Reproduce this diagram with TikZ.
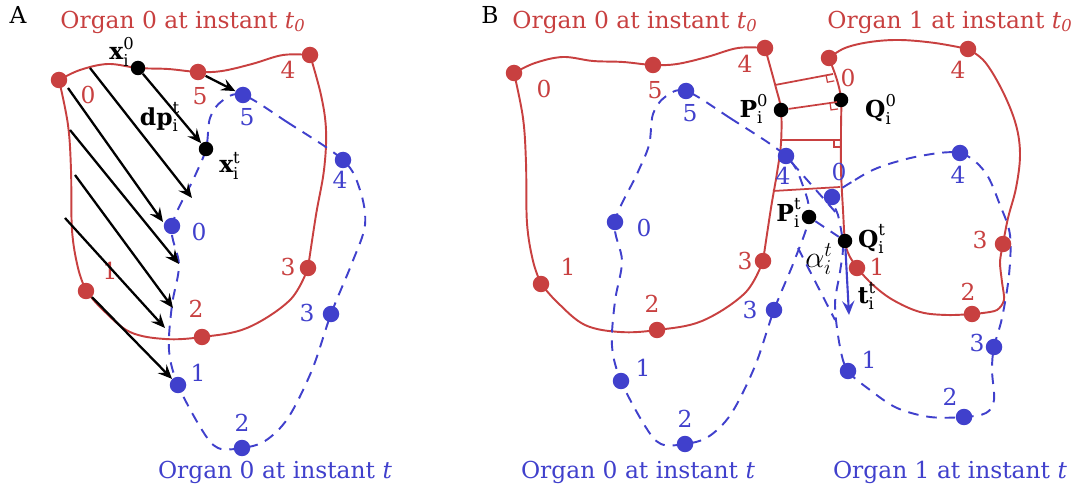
\documentclass[tikz,border=0pt]{standalone}
\usepackage{fontspec}
\setmainfont{DejaVu Serif}
\usepackage{amsmath}
\usetikzlibrary{arrows.meta, backgrounds, calc}
\definecolor{orgred}{RGB}{200,64,64}
\definecolor{orgblue}{RGB}{64,64,204}
\newcommand{\vlab}[3]{$\textbf{#1}_{\text{#2}}^{\text{#3}}$}

\begin{document}
\begin{tikzpicture}
  [
  x = 0.02cm, y = -0.02cm, >={Stealth[length=8pt, width=7pt, inset=3pt]},
  font = \fontsize{13.3}{16}\selectfont,
  rdot/.style = {circle, fill=orgred, inner sep=0pt, minimum size=3.3mm},
  bdot/.style = {circle, fill=orgblue, inner sep=0pt, minimum size=3.3mm},
  kdot/.style = {circle, fill=black, inner sep=0pt, minimum size=2.9mm},
  rnum/.style = {text=orgred},
  bnum/.style = {text=orgblue},
  outline/.style = {draw=orgred, line width=1.1pt},
  moved/.style = {draw=orgblue, line width=1.1pt, dash pattern=on 6pt off 4.5pt},
  disp/.style = {->, line width=1.3pt},
  gap/.style = {draw=orgred, line width=1pt}
  ]
  \useasboundingbox (0,0) rectangle (1079,493);

  % ---------------- panel A ----------------
  \node (lab-A) at (18,15) {A};
  \node[rnum] (tit-A0) at (183,22) {Organ 0 at instant $\textit{t}_{\textit{0}}$};
  \node[bnum] (tit-At) at (275,472) {Organ 0 at instant \textit{t}};

  \node[rdot] (a-r0) at (59,80)   {};
  \node[rdot] (a-r1) at (86,291)  {};
  \node[rdot] (a-r2) at (202,337) {};
  \node[rdot] (a-r3) at (308,268) {};
  \node[rdot] (a-r4) at (310,55)  {};
  \node[rdot] (a-r5) at (198,72)  {};
  \node[rnum] (a-rl0) at (88,95)   {0};
  \node[rnum] (a-rl1) at (110,271) {1};
  \node[rnum] (a-rl2) at (196,309) {2};
  \node[rnum] (a-rl3) at (288,267) {3};
  \node[rnum] (a-rl4) at (288,70)  {4};
  \node[rnum] (a-rl5) at (200,96)  {5};

  \node[bdot] (a-b0) at (172,226) {};
  \node[bdot] (a-b1) at (178,385) {};
  \node[bdot] (a-b2) at (242,448) {};
  \node[bdot] (a-b3) at (331,314) {};
  \node[bdot] (a-b4) at (343,160) {};
  \node[bdot] (a-b5) at (243,95)  {};
  \node[bnum] (a-bl0) at (199,232) {0};
  \node[bnum] (a-bl1) at (198,373) {1};
  \node[bnum] (a-bl2) at (242,423) {2};
  \node[bnum] (a-bl3) at (307,313) {3};
  \node[bnum] (a-bl4) at (340,180) {4};
  \node[bnum] (a-bl5) at (247,117) {5};

  \node[kdot] (xi0) at (138,68)  {};
  \node[kdot] (xit) at (206,149) {};
  \node (xi0-l) at (122,52)  {\vlab{x}{i}{0}};
  \node (dp-l)  at (160,117) {\vlab{dp}{i}{t}};
  \node (xit-l) at (230,166) {\vlab{x}{i}{t}};

  \draw[disp] (xi0) -- (xit);
  \draw[disp] (a-r5) -- (a-b5);
  \draw[disp] (a-r1) -- (a-b1);
  \foreach \k/\sx/\sy/\ex/\ey in {1/90/68/192/198, 2/68/88/163/222, 3/70/130/179/264,
                                  4/75/175/173/308, 5/65/218/165/328}
  {
    \coordinate (h\k-s) at (\sx,\sy);
    \coordinate (h\k-e) at (\ex,\ey);
    \draw[disp] (h\k-s) -- (h\k-e);
  }

  % ---------------- panel B ----------------
  \node (lab-B) at (490,15) {B};
  \node[rnum] (tit-B0) at (635,22) {Organ 0 at instant $\textit{t}_{\textit{0}}$};
  \node[rnum] (tit-B1) at (950,22) {Organ 1 at instant $\textit{t}_{\textit{0}}$};
  \node[bnum] (tit-Bt0) at (638,472) {Organ 0 at instant \textit{t}};
  \node[bnum] (tit-Bt1) at (950,472) {Organ 1 at instant \textit{t}};

  % organ 0, same outline as in A
  \begin{scope}[shift={(455,-7)}]
    \node[rdot] (b-r0) at (59,80)   {};
    \node[rdot] (b-r1) at (86,291)  {};
    \node[rdot] (b-r2) at (202,337) {};
    \node[rdot] (b-r3) at (308,268) {};
    \node[rdot] (b-r4) at (310,55)  {};
    \node[rdot] (b-r5) at (198,72)  {};
    \node[rnum] (b-rl0) at (89,96)   {0};
    \node[rnum] (b-rl1) at (113,274) {1};
    \node[rnum] (b-rl2) at (197,311) {2};
    \node[rnum] (b-rl3) at (290,268) {3};
    \node[rnum] (b-rl4) at (290,71)  {4};
    \node[rnum] (b-rl5) at (200,97)  {5};
  \end{scope}
  \begin{scope}[shift={(443,-4)}]
    \node[bdot] (b-b0) at (172,226) {};
    \node[bdot] (b-b1) at (178,385) {};
    \node[bdot] (b-b2) at (242,448) {};
    \node[bdot] (b-b3) at (331,314) {};
    \node[bdot] (b-b4) at (343,160) {};
    \node[bdot] (b-b5) at (243,95)  {};
    \node[bnum] (b-bl0) at (201,232) {0};
    \node[bnum] (b-bl1) at (200,372) {1};
    \node[bnum] (b-bl2) at (242,423) {2};
    \node[bnum] (b-bl3) at (307,314) {3};
    \node[bnum] (b-bl4) at (340,180) {4};
    \node[bnum] (b-bl5) at (247,117) {5};
  \end{scope}

  % organ 1
  \node[rdot] (b-s0) at (829,58)   {};
  \node[rdot] (b-s1) at (857,268)  {};
  \node[rdot] (b-s2) at (972,314)  {};
  \node[rdot] (b-s3) at (1003,244) {};
  \node[rdot] (b-s4) at (968,49)   {};
  \node[rnum] (b-sl0) at (848,78)  {0};
  \node[rnum] (b-sl1) at (877,267) {1};
  \node[rnum] (b-sl2) at (968,292) {2};
  \node[rnum] (b-sl3) at (980,240) {3};
  \node[rnum] (b-sl4) at (958,70)  {4};

  \node[bdot] (b-c0) at (832,197) {};
  \node[bdot] (b-c1) at (848,371) {};
  \node[bdot] (b-c2) at (964,417) {};
  \node[bdot] (b-c3) at (994,347) {};
  \node[bdot] (b-c4) at (960,153) {};
  \node[bnum] (b-cl0) at (839,172) {0};
  \node[bnum] (b-cl1) at (869,360) {1};
  \node[bnum] (b-cl2) at (950,397) {2};
  \node[bnum] (b-cl3) at (977,343) {3};
  \node[bnum] (b-cl4) at (958,175) {4};

  % contact points
  \node[kdot] (b-P0) at (781,110) {};
  \node[kdot] (b-Q0) at (841,100) {};
  \node[kdot] (b-Pt) at (809,217) {};
  \node[kdot] (b-Qt) at (845,241) {};
  \node (b-P0-l) at (754,109) {\vlab{P}{i}{0}};
  \node (b-Q0-l) at (881,109) {\vlab{Q}{i}{0}};
  \node (b-Pt-l) at (789,213) {\vlab{P}{i}{t}};
  \node (b-Qt-l) at (872,239) {\vlab{Q}{i}{t}};
  \node[font=\fontsize{17}{20}\selectfont] (b-al-l) at (819,259) {$\alpha_i^t$};

  \coordinate (g1a) at (775,85);  \coordinate (g1b) at (833,74);
  \coordinate (g2b) at (837,102);
  \coordinate (g3a) at (782,140); \coordinate (g3b) at (841,140);
  \coordinate (g4a) at (773,191); \coordinate (g4b) at (840,187);
  \draw[gap] (g1a) -- (g1b);
  \draw[gap] (b-P0) -- (g2b);
  \draw[gap] (g3a) -- (g3b);
  \draw[gap] (g4a) -- (g4b);
  \foreach \e/\s in {g1b/g1a, g2b/b-P0, g3b/g3a}
    \draw[gap, line width=0.7pt] ($(\e)!0.14cm!(\s)$) -- ($(\e)!0.14cm!(\s)!0.14cm!-90:(\e)$)
      -- ($(\e)!0.14cm!90:(\s)$);

  \coordinate (v1) at (838,215);
  \coordinate (w1) at (798,248);  \coordinate (w2) at (835,320);
  \draw[moved] (b-b4) -- (v1);
  \draw[moved] (w1) -- (w2);
  \draw[moved] (b-Pt) -- (b-Qt);

  \coordinate (ttip) at (849,315);
  \draw[->, draw=orgblue, line width=1.2pt] (b-Qt) -- (ttip);
  \node (b-t-l) at (867,296) {\vlab{t}{i}{t}};

  % ---------------- outlines ----------------
  \begin{scope}[on background layer]
    \draw[outline] plot[smooth, tension=0.6] coordinates {(a-r0) (80,70) (108,64) (xi0) (168,69) (a-r5) (222,71) (252,64) (283,55) (a-r4)};
    \draw[outline] plot[smooth, tension=0.6] coordinates {(a-r4) (321,95) (326,130) (324,170) (316,215) (a-r3)};
    \draw[outline] plot[smooth, tension=0.6] coordinates {(a-r3) (290,300) (247,328) (a-r2) (165,339) (130,332) (103,310) (a-r1)};
    \draw[outline] plot[smooth, tension=0.6] coordinates {(a-r1) (78,268) (72,230) (71,170) (68,125) (a-r0)};
    \draw[moved] plot[smooth cycle, tension=0.55] coordinates {(a-b5) (287,122) (a-b4) (360,190) (365,225) (352,263)
      (a-b3) (312,370) (288,418) (265,441) (a-b2) (218,448) (202,430) (a-b1) (169,350) (172,305) (179,265)
      (a-b0) (194,178) (xit) (210,118) (222,101)};

    \begin{scope}[shift={(455,-7)}]
      \draw[outline] plot[smooth, tension=0.6] coordinates {(b-r0) (80,70) (108,64) (138,68) (168,69) (b-r5) (222,71) (252,64) (283,55) (b-r4)};
      \draw[outline] plot[smooth, tension=0.6] coordinates {(b-r4) (321,95) (b-P0) (326,150) (322,180) (316,215) (b-r3)};
      \draw[outline] plot[smooth, tension=0.6] coordinates {(b-r3) (290,300) (247,328) (b-r2) (165,339) (130,332) (103,310) (b-r1)};
      \draw[outline] plot[smooth, tension=0.6] coordinates {(b-r1) (78,268) (72,230) (71,170) (68,125) (b-r0)};
    \end{scope}
    \begin{scope}[shift={(443,-4)}]
      \draw[moved] plot[smooth cycle, tension=0.55] coordinates {(b-b5) (287,122) (b-b4) (360,190) (b-Pt) (352,263)
        (b-b3) (312,370) (288,418) (265,441) (b-b2) (218,448) (202,430) (b-b1) (169,350) (172,305) (179,265)
        (b-b0) (194,178) (206,149) (210,118) (222,101)};
    \end{scope}

    \draw[outline] plot[smooth, tension=0.6] coordinates {(b-s0) (845,48) (870,42) (900,40) (935,43) (b-s4)};
    \draw[outline] plot[smooth, tension=0.6] coordinates {(b-s4) (985,62) (1003,92) (1016,125) (1020,155) (1016,188) (1008,218) (b-s3)};
    \draw[outline] plot[smooth, tension=0.5] coordinates {(b-s3) (1000,262) (1002,282) (1004,300) (997,310) (983,313) (b-s2)};
    \draw[outline] plot[smooth, tension=0.6] coordinates {(b-s2) (947,315) (920,312) (893,300) (873,285) (b-s1)};
    \draw[outline] plot[smooth, tension=0.6] coordinates {(b-s1) (849,255) (b-Qt) (843,210) (841,170) (841,130) (b-Q0) (837,80) (b-s0)};
    \draw[moved] plot[smooth cycle, tension=0.55] coordinates {(b-c0) (855,180) (880,167) (920,156) (b-c4) (985,172)
      (1000,205) (1010,235) (1009,275) (1002,318) (b-c3) (992,370) (994,400) (986,413) (b-c2) (930,417) (897,408)
      (870,390) (b-c1) (840,347) (835,305) (840,272) (843,245) (838,215)};
  \end{scope}
\end{tikzpicture}
\end{document}
